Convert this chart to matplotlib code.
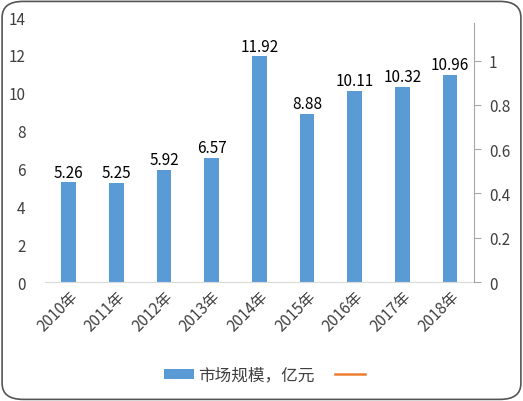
import matplotlib
matplotlib.use('Agg')
import matplotlib.pyplot as plt
from matplotlib.patches import FancyBboxPatch
from matplotlib.lines import Line2D
from matplotlib.patches import Patch

plt.rcParams['font.family'] = ['Noto Sans CJK SC', 'DejaVu Sans']

years = ['2010年', '2011年', '2012年', '2013年', '2014年',
         '2015年', '2016年', '2017年', '2018年']
market = [5.26, 5.25, 5.92, 6.57, 11.92, 8.88, 10.11, 10.32, 10.96]
left_ticks = [0, 2, 4, 6, 8, 10, 12, 14]
right_ticks = [0, 0.2, 0.4, 0.6, 0.8, 1]

BLUE = '#5b9bd5'
ORANGE = '#ed7d31'
TXT = '#404040'
FS = 11

fig = plt.figure(figsize=(5.23, 4.02), dpi=100)
frame = FancyBboxPatch((0.004, 0.004), 0.992, 0.99, boxstyle='round,pad=0,rounding_size=0.04',
                       transform=fig.transFigure, facecolor='white', edgecolor='#555555',
                       linewidth=1.2, zorder=-1)
fig.patches.append(frame)

ax = fig.add_axes([0.086, 0.296, 0.82, 0.659])
ax.set_facecolor('none')
x = range(len(years))
ax.bar(x, market, width=0.31, color=BLUE, zorder=2)
for xi, v in zip(x, market):
    ax.text(xi, v + 0.1, f'{v:.2f}', ha='center', va='bottom', fontsize=FS, color='black')

ax.set_xlim(-0.5, len(years) - 0.5)
ax.set_ylim(0, 14)
ax.set_yticks(left_ticks)
ax.set_yticklabels([str(t) for t in left_ticks], fontsize=FS, color=TXT)
ax.set_xticks(list(x))
ax.set_xticklabels(years, rotation=45, ha='right', rotation_mode='anchor',
                   fontsize=FS, color=TXT)
for s in ['top', 'left', 'right']:
    ax.spines[s].set_visible(False)
ax.spines['bottom'].set_color('#d9d9d9')
ax.tick_params(axis='both', length=0)
ax.tick_params(axis='y', pad=14)
ax.tick_params(axis='x', pad=4)

ax2 = ax.twinx()
ax2.set_ylim(0, 14 / 13.8 * 1.18)
ax2.set_yticks(right_ticks)
ax2.set_yticklabels(['0', '0.2', '0.4', '0.6', '0.8', '1'], fontsize=FS, color=TXT)
for s in ['top', 'left', 'bottom']:
    ax2.spines[s].set_visible(False)
ax2.spines['right'].set_color('#a6a6a6')
ax2.spines['right'].set_bounds(0, 1.17)
ax2.tick_params(axis='y', length=5, color='#a6a6a6', pad=6)

handles = [Patch(facecolor=BLUE, edgecolor='none'),
           Line2D([0], [0], color=ORANGE, linewidth=1.8)]
fig.legend(handles, ['市场规模，亿元', ''], loc='center', bbox_to_anchor=(0.51, 0.064),
           ncol=2, frameon=False, fontsize=12, handlelength=1.8, handleheight=0.6,
           handletextpad=0.3, columnspacing=1.2, labelcolor=TXT)

fig.savefig('out.png', dpi=100)
